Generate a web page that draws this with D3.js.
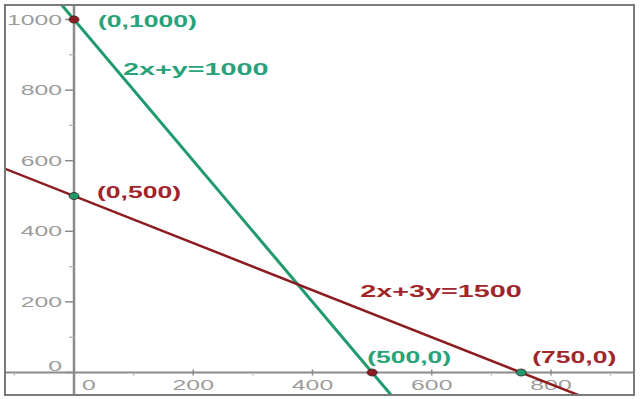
<!DOCTYPE html>
<html>
<head>
<meta charset="utf-8">
<script src="https://cdn.jsdelivr.net/npm/d3@7"></script>
<style>
  html, body { margin: 0; padding: 0; background: #fff; }
  svg { display: block; }
</style>
</head>
<body>
<svg id="chart" width="640" height="399"></svg>
<script>
// the two constraint lines  a*x + b*y = c
const equations = ["2x+y=1000", "2x+3y=1500"];
const coefA = [2, 2];
const coefB = [1, 3];
const rhs = [1000, 1500];
const eqColors = ["#1f9a6c", "#8c1c1f"];
const eqTextColors = ["#27a377", "#a2252c"];
// where the equation labels sit (data units)
const eqLabelX = [82, 480];
const eqLabelY = [843, 214];

// intercept points
const pointX = [0, 0, 500, 750];
const pointY = [1000, 500, 0, 0];
const pointLabels = ["(0,1000)", "(0,500)", "(500,0)", "(750,0)"];
const pointFill = ["#8c1c1f", "#1f9a6c", "#8c1c1f", "#1f9a6c"];
const pointTextColors = ["#27a377", "#a2252c", "#27a377", "#a2252c"];
const pointLabelDx = [24, 23, -5, 11];
const pointLabelDy = [7, 2, -10, -10];

// ticks
const xTicks = [0, 200, 400, 600, 800];
const xMinor = [-100, 100, 300, 500, 700, 900];
const yTicks = [0, 200, 400, 600, 800, 1000];
const yMinor = [100, 300, 500, 700, 900];

const svg = d3.select("#chart");
const box = { left: 5, top: 5, right: 634, bottom: 395 };

const x = d3.scaleLinear().domain([0, 800]).range([74, 551]);
const y = d3.scaleLinear().domain([0, 1000]).range([372.5, 19.5]);

svg.append("rect").attr("width", 640).attr("height", 399).attr("fill", "#fff");

svg.append("defs").append("clipPath").attr("id", "clip")
  .append("rect")
  .attr("x", box.left).attr("y", box.top)
  .attr("width", box.right - box.left).attr("height", box.bottom - box.top);

const axisColor = "#8a8a8a";
const labelColor = "#9c9c9c";
const tickFont = "'Liberation Sans', Arial, sans-serif";
const labelFont = "'Liberation Sans', Arial, sans-serif";

// axes lines
svg.append("line")
  .attr("x1", box.left).attr("x2", box.right)
  .attr("y1", y(0)).attr("y2", y(0))
  .attr("stroke", axisColor).attr("stroke-width", 2);
svg.append("line")
  .attr("x1", x(0)).attr("x2", x(0))
  .attr("y1", box.top).attr("y2", box.bottom)
  .attr("stroke", axisColor).attr("stroke-width", 2.5);

// y ticks
svg.selectAll(".ytick").data(yTicks).enter().append("line")
  .attr("x1", x(0) - 9).attr("x2", x(0))
  .attr("y1", d => y(d)).attr("y2", d => y(d))
  .attr("stroke", axisColor).attr("stroke-width", 1.5);
svg.selectAll(".yminor").data(yMinor).enter().append("line")
  .attr("x1", x(0) - 5).attr("x2", x(0))
  .attr("y1", d => y(d)).attr("y2", d => y(d))
  .attr("stroke", "#b0b0b0").attr("stroke-width", 1.2);
svg.selectAll(".ylab").data(yTicks).enter().append("text")
  .attr("transform", d => "translate(62," + (y(d) + 5 - (d === 0 ? 7 : 0)) + ") scale(1.65,1)")
  .attr("text-anchor", "end")
  .attr("font-family", tickFont).attr("font-size", 15)
  .attr("fill", labelColor)
  .text(d => d);

// x ticks
svg.selectAll(".xtick").data(xTicks.filter(d => d !== 0)).enter().append("line")
  .attr("x1", d => x(d)).attr("x2", d => x(d))
  .attr("y1", y(0) - 3).attr("y2", y(0) + 3)
  .attr("stroke", axisColor).attr("stroke-width", 1.5);
svg.selectAll(".xminor").data(xMinor).enter().append("line")
  .attr("x1", d => x(d)).attr("x2", d => x(d))
  .attr("y1", y(0)).attr("y2", y(0) + 3)
  .attr("stroke", "#b0b0b0").attr("stroke-width", 1.2);
svg.selectAll(".xlab").data(xTicks).enter().append("text")
  .attr("transform", d => "translate(" + (x(d) + (d === 0 ? 15 : 0)) + ",390) scale(1.65,1)")
  .attr("text-anchor", "middle")
  .attr("font-family", tickFont).attr("font-size", 15)
  .attr("fill", labelColor)
  .text(d => d);

// constraint lines, drawn across the whole box
const xMin = x.invert(box.left - 5), xMax = x.invert(box.right + 5);
const yMin = y.invert(box.bottom + 5), yMax = y.invert(box.top - 5);
const lineData = equations.map((e, i) => {
  const a = coefA[i], b = coefB[i], c = rhs[i];
  // endpoints where the line leaves the plotting box
  let p1, p2;
  if (i === 0) {
    p1 = [(c - b * yMax) / a, yMax];
    p2 = [(c - b * yMin) / a, yMin];
  } else {
    p1 = [xMin, (c - a * xMin) / b];
    p2 = [(c - b * yMin) / a, yMin];
  }
  return [p1, p2];
});

const lineGen = d3.line().x(d => x(d[0])).y(d => y(d[1]));
svg.append("g").attr("clip-path", "url(#clip)")
  .selectAll("path").data(lineData).enter().append("path")
  .attr("d", lineGen)
  .attr("fill", "none")
  .attr("stroke", (d, i) => eqColors[i])
  .attr("stroke-width", (d, i) => i === 0 ? 3 : 2.5);

// intercept dots
svg.selectAll(".pt").data(pointX).enter().append("ellipse")
  .attr("cx", (d, i) => x(pointX[i]))
  .attr("cy", (d, i) => y(pointY[i]))
  .attr("rx", 5).attr("ry", 3.5)
  .attr("fill", (d, i) => pointFill[i])
  .attr("stroke", "#3a2020").attr("stroke-width", 0.8);

// point labels
svg.selectAll(".ptlab").data(pointLabels).enter().append("text")
  .attr("transform", (d, i) => "translate(" + (x(pointX[i]) + pointLabelDx[i]) + "," + (y(pointY[i]) + pointLabelDy[i]) + ") scale(1.66,1)")
  .attr("font-family", labelFont).attr("font-weight", "bold").attr("font-size", 16)
  .attr("fill", (d, i) => pointTextColors[i])
  .text(d => d);

// equation labels
svg.selectAll(".eqlab").data(equations).enter().append("text")
  .attr("transform", (d, i) => "translate(" + x(eqLabelX[i]) + "," + y(eqLabelY[i]) + ") scale(1.8,1)")
  .attr("font-family", labelFont).attr("font-weight", "bold").attr("font-size", 16)
  .attr("fill", (d, i) => eqTextColors[i])
  .text(d => d);

// frame
svg.append("rect")
  .attr("x", box.left).attr("y", box.top)
  .attr("width", box.right - box.left).attr("height", box.bottom - box.top)
  .attr("fill", "none").attr("stroke", "#7a7a7a").attr("stroke-width", 2);
</script>
</body>
</html>
